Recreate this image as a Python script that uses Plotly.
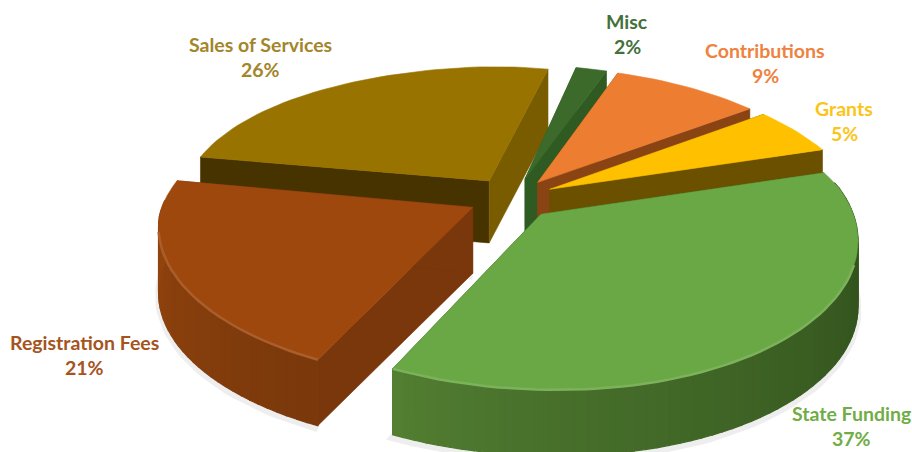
import math
import plotly.graph_objects as go

categories = ["State Funding", "Registration Fees", "Sales of Services", "Misc", "Contributions", "Grants"]
values = [37, 21, 26, 2, 9, 5]
top_colors = ["#6aa845", "#9e480e", "#997300", "#3c6a2a", "#ed7d31", "#ffc000"]
label_colors = ["#70ad47", "#a5541e", "#a3852a", "#44703a", "#ee8240", "#fcc419"]
label_x = [851, 84, 260, 627, 765, 844]
label_y = [413, 342, 44, 21, 50, 108]
# colour of the face seen at the slice's start angle / end angle
start_face = ["#2e4f1b", "#7a370b", "#473300", "#2f5a22", "#8a4414", "#6b5000"]
end_face = ["#2e4f1b", "#7a370b", "#7a5c00", "#2f5a22", "#8a4414", "#6b5000"]
wall_near = ["#527f32", "#7a380b", "#7a5c00", "#2f5a22", "#8a4414", "#6b5000"]
wall_far = ["#2c4a19", "#97460e", "#7a5c00", "#2f5a22", "#8a4414", "#6b5000"]
paint_order = [2, 3, 4, 5, 1, 0]

START_ANGLE = 78.0
EXPLODE = 0.14
CX, CY = 510, 198
DEPTH = 62


def project(x, y, z=0.0):
    if x > 0:
        a = 303 - (62 * y if y > 0 else 40 * y)
    else:
        a = 312 - (45 * y if y > 0 else 40 * y)
    shift = 2 - (30 * y if y > 0 else 35 * y)
    sx = CX + shift + x * a
    b = y * (147 - 27 * y) if y > 0 else y * (147 - 23 * y)
    sy = CY - b - (11 if x > 0 else 15) * x + z * (DEPTH + (4 if y < 0 else 0))
    return sx, sy


def hex_mix(a, b, t):
    ca = [int(a[i:i + 2], 16) for i in (1, 3, 5)]
    cb = [int(b[i:i + 2], 16) for i in (1, 3, 5)]
    return "rgb(%d,%d,%d)" % tuple(round(p + (q - p) * t) for p, q in zip(ca, cb))


def poly(points, fill, line=None, width=1.2):
    xs = [p[0] for p in points] + [points[0][0]]
    ys = [p[1] for p in points] + [points[0][1]]
    return go.Scatter(x=xs, y=ys, mode="lines", fill="toself", fillcolor=fill,
                      line=dict(color=line or fill, width=width), hoverinfo="skip", showlegend=False)


fig = go.Figure()
total = sum(values)
spans = []
angle = START_ANGLE
for v in values:
    spans.append((angle, angle + v / total * 360))
    angle = spans[-1][1]

for i in paint_order:
    a0, a1 = spans[i]
    mid = math.radians((a0 + a1) / 2)
    ax, ay = EXPLODE * math.sin(mid), EXPLODE * math.cos(mid)
    steps = max(4, int((a1 - a0) / 2))
    arc = []
    for s in range(steps + 1):
        t = math.radians(a0 + (a1 - a0) * s / steps)
        arc.append((ax + math.sin(t), ay + math.cos(t)))

    # soft shadow for the front slices
    if i in (0, 1):
        shadow = [project(x, y, 1) for x, y in arc] + [project(ax, ay, 1)]
        fig.add_trace(go.Scatter(x=[p[0] for p in shadow], y=[p[1] + 3 for p in shadow], mode="lines",
                                 line=dict(color="rgba(90,90,90,0.10)", width=7), hoverinfo="skip", showlegend=False))

    # cut faces
    for (ex, ey), col in ((arc[0], start_face[i]), (arc[-1], end_face[i])):
        fig.add_trace(poly([project(ax, ay), project(ex, ey), project(ex, ey, 1), project(ax, ay, 1)], col, width=0.6))

    # outer wall
    for s in range(steps):
        (x0, y0), (x1, y1) = arc[s], arc[s + 1]
        if (y0 - ay) > 0.12 and (y1 - ay) > 0.12:
            continue
        f = s / max(1, steps - 1)
        if i == 0:
            col = hex_mix(wall_near[i], wall_far[i], (1 - f) ** 0.8)
        else:
            col = hex_mix(wall_near[i], wall_far[i], f)
        fig.add_trace(poly([project(x0, y0), project(x1, y1), project(x1, y1, 1), project(x0, y0, 1)], col))

    # top
    top = [project(ax, ay)] + [project(x, y) for x, y in arc]
    fig.add_trace(poly(top, top_colors[i], width=0.6))

    # bevel highlight along the front of the rim
    limit = -0.35 if i == 0 else -0.05
    front = [project(x, y) for x, y in arc if y - ay < limit]
    if i in (0, 1) and front:
        bevel = hex_mix(top_colors[i], "#ffffff", 0.12)
        fig.add_trace(go.Scatter(x=[p[0] for p in front], y=[p[1] for p in front], mode="lines",
                                 line=dict(color=bevel, width=2.5), hoverinfo="skip", showlegend=False))

for name, v, col, lx, ly in zip(categories, values, label_colors, label_x, label_y):
    for text, yy in ((name, ly), (f"{v}%", ly + 25)):
        fig.add_annotation(x=lx, y=yy, text=f"<b>{text}</b>", showarrow=False,
                           font=dict(family="Lato, Open Sans, sans-serif", size=19.5, color=col))

fig.update_layout(width=912, height=452, margin=dict(l=0, r=0, t=0, b=0), showlegend=False,
                  paper_bgcolor="white", plot_bgcolor="white",
                  xaxis=dict(range=[0, 912], visible=False, fixedrange=True),
                  yaxis=dict(range=[452, 0], visible=False, fixedrange=True))
fig.write_html("out.html", config={"displayModeBar": False},
               post_script="document.body.style.margin='0';document.body.style.overflow='hidden';")
